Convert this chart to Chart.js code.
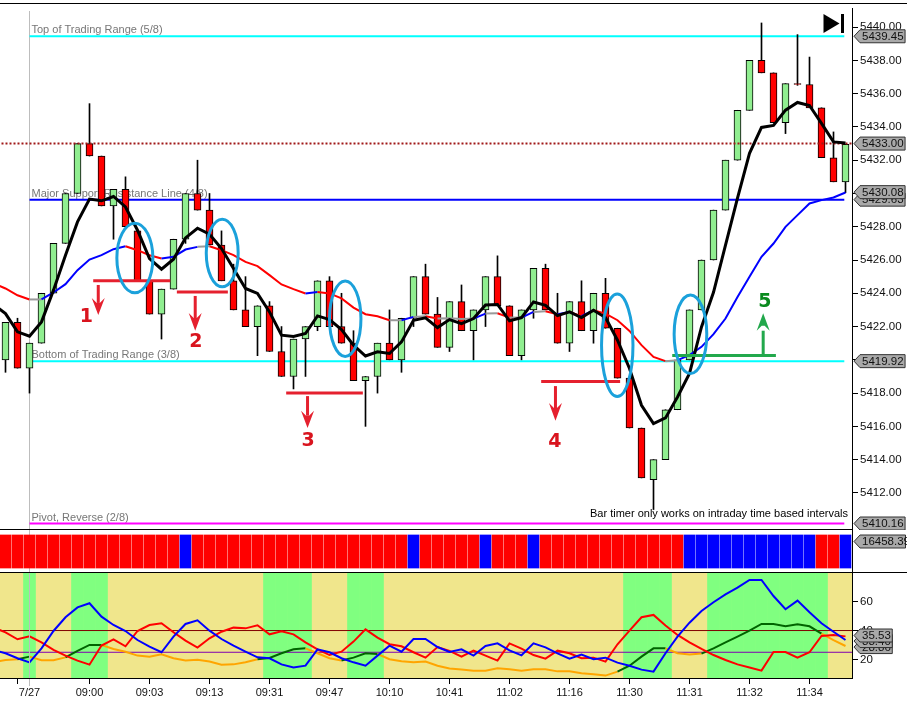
<!DOCTYPE html>
<html>
<head>
<meta charset="utf-8">
<title>Trading range chart</title>
<script src="https://cdn.jsdelivr.net/npm/chart.js@4"></script>
<style>
	html, body { margin: 0; padding: 0; background: #fff; overflow: hidden; }
	canvas { position: absolute; left: 0; }
</style>
</head>
<body>
<canvas id="priceChart" width="907" height="530" style="top:0px"></canvas>
<canvas id="signalChart" width="907" height="42" style="top:530px"></canvas>
<canvas id="oscChart" width="907" height="131" style="top:572px"></canvas>
<script>
// Candles, bar 0 is the first one on screen
const opens = [
	5420, 5422.25, 5419.5, 5421, 5424, 5427, 5430, 5433, 5432.25, 5429.25,
	5430.25, 5427.75, 5424.75, 5422.75, 5424.25, 5427.25, 5430, 5429, 5426.9, 5424.75,
	5423, 5422, 5423.25, 5420.5, 5419, 5421.25, 5422, 5424.75, 5422, 5421,
	5418.75, 5419, 5421, 5420, 5422.5, 5425, 5422.75, 5420.75, 5423.5, 5421.75,
	5423, 5425, 5423.25, 5420.25, 5423, 5425.5, 5422.75, 5421, 5423.5, 5421.75,
	5424, 5421.9, 5418.9, 5415.9, 5412.8, 5414, 5417, 5420, 5423, 5426,
	5429, 5432, 5435, 5438, 5437.25, 5434.25, 5436.6, 5436.55, 5435.15, 5432.15,
	5430.7];
const closes = [
	5422.25, 5419.5, 5421, 5424, 5427, 5430, 5433, 5432.25, 5429.25, 5430.25,
	5428, 5424.75, 5422.75, 5424.25, 5427.25, 5430, 5429, 5426.9, 5424.75, 5423,
	5422, 5423.25, 5420.5, 5419, 5421.25, 5422, 5424.75, 5422, 5421, 5418.75,
	5419, 5421, 5420, 5422.5, 5425, 5422.75, 5420.75, 5423.5, 5421.75, 5423,
	5425, 5423.25, 5420.25, 5423, 5425.5, 5423, 5421, 5423.5, 5421.75, 5424,
	5421.9, 5418.9, 5415.9, 5412.9, 5414, 5417, 5420, 5423, 5426, 5429,
	5432, 5435, 5438, 5437.25, 5434.25, 5436.6, 5436.55, 5435.15, 5432.15, 5430.7,
	5432.95];
const highs = [
	5422.25, 5422.5, 5421, 5424, 5427, 5430, 5433, 5435.4, 5432.25, 5430.25,
	5431, 5427.75, 5424.75, 5424.25, 5427.25, 5430, 5432, 5430, 5427.75, 5425.75,
	5425, 5423.25, 5423.5, 5422, 5421.25, 5422, 5424.75, 5425, 5424, 5421.75,
	5419, 5421, 5423, 5422.5, 5425, 5425.75, 5423.75, 5423.5, 5424.5, 5423,
	5425, 5426.25, 5423.25, 5423, 5425.5, 5425.75, 5424, 5423.5, 5424.75, 5424,
	5424.9, 5421.9, 5418.9, 5415.9, 5414, 5417, 5420, 5423, 5426, 5429,
	5432, 5435, 5438, 5440.25, 5437.25, 5436.6, 5439.55, 5438.2, 5435.15, 5433.7,
	5432.95];
const lows = [
	5419.25, 5419.5, 5418, 5421, 5424, 5427, 5430, 5432.25, 5429.25, 5427.25,
	5428, 5424.75, 5422.75, 5421.25, 5424.25, 5427, 5429, 5426.9, 5424.75, 5423,
	5422, 5420.25, 5420.5, 5419, 5418.25, 5419, 5421.75, 5422, 5421, 5418.75,
	5416, 5418, 5420, 5419.25, 5422, 5422.75, 5420.75, 5420.5, 5421.75, 5420,
	5422, 5423.25, 5420.25, 5420, 5422.5, 5423, 5421, 5420.5, 5421.75, 5421,
	5421.9, 5418.9, 5415.9, 5412.9, 5411, 5414, 5417, 5420, 5423, 5426,
	5429, 5432, 5435, 5437.25, 5434.25, 5433.6, 5436.5, 5435.15, 5432.15, 5430.7,
	5430.05];

// Line series start one bar before the screen so they run off the left edge
const fastAvg = [
	5423.34, 5422.78, 5421.68, 5421.42, 5422.28, 5424.19, 5426.29, 5428.29, 5429.66, 5429.56,
	5429.82, 5429.19, 5427.79, 5426.09, 5425.45, 5426.05, 5427.33, 5427.91, 5427.55, 5426.69,
	5425.49, 5424.29, 5423.99, 5422.88, 5421.48, 5421.4, 5421.58, 5422.64, 5422.42, 5421.82,
	5420.88, 5420.23, 5420.48, 5420.38, 5421.08, 5422.38, 5422.52, 5421.94, 5422.42, 5422.18,
	5422.48, 5423.3, 5423.33, 5422.34, 5422.54, 5423.48, 5423.28, 5422.66, 5422.88, 5422.54,
	5422.98, 5422.54, 5421.18, 5419.48, 5417.27, 5416.17, 5416.51, 5417.77, 5419.18, 5421.98,
	5424.06, 5426.89, 5429.72, 5432.41, 5433.97, 5434.09, 5435.01, 5435.47, 5435.29, 5434.21,
	5433.1, 5433.04];
const slowAvg = [
	5424.59, 5424.29, 5423.88, 5423.63, 5423.63, 5424.05, 5424.55, 5425.39, 5426.03, 5426.29,
	5426.65, 5426.83, 5426.59, 5426.29, 5426.09, 5426.19, 5426.63, 5426.79, 5426.83, 5426.59,
	5426.29, 5425.89, 5425.63, 5425.09, 5424.53, 5424.25, 5423.99, 5424.08, 5423.99, 5423.69,
	5423.14, 5422.74, 5422.62, 5422.38, 5422.38, 5422.58, 5422.62, 5422.48, 5422.5, 5422.46,
	5422.48, 5422.78, 5422.8, 5422.54, 5422.54, 5422.88, 5422.92, 5422.74, 5422.88, 5422.62,
	5422.98, 5422.78, 5422.38, 5421.74, 5420.88, 5420.17, 5419.92, 5419.98, 5420.28, 5420.78,
	5421.54, 5422.48, 5423.78, 5424.99, 5426.19, 5426.99, 5427.99, 5428.7, 5429.4, 5429.6,
	5429.76, 5430.06];

const priceTicks = [5412, 5414, 5416, 5418, 5420, 5422, 5424, 5426, 5428, 5430, 5432, 5434, 5436, 5438, 5440];
const topLevel = 5439.45;
const midLevel = 5429.63;
const bottomLevel = 5419.92;
const pivotLevel = 5410.16;
const closeLevel = 5433;
const levelNames = ["Top of Trading Range (5/8)", "Major Support/Resistance Line (4/8)", "Bottom of Trading Range (3/8)", "Pivot, Reverse (2/8)"];
const levelValues = [topLevel, midLevel, bottomLevel, pivotLevel];
const priceTags = ["5439.45", "5429.63", "5433.00", "5430.08", "5419.92", "5410.16"];
const priceTagValues = [5439.45, 5429.63, 5433, 5430.08, 5419.92, 5410.16];

// 1 means a blue bar in the strip under the prices
const signal = [
	0, 0, 0, 0, 0, 0, 0, 0, 0, 0,
	0, 0, 0, 0, 0, 1, 0, 0, 0, 0,
	0, 0, 0, 0, 0, 0, 0, 0, 0, 0,
	0, 0, 0, 0, 1, 0, 0, 0, 0, 0,
	1, 0, 0, 0, 1, 0, 0, 0, 0, 0,
	0, 0, 0, 0, 0, 0, 0, 1, 1, 1,
	1, 1, 1, 1, 1, 1, 1, 1, 0, 0,
	1];

// Oscillator panel
const greenBars = [2, 6, 7, 8, 22, 23, 24, 25, 29, 30, 31, 52, 53, 54, 55, 59, 60, 61, 62, 63, 64, 65, 66, 67, 68];
const oscBlue = [
	26.9, 24.6, 21.2, 18.4, 28.0, 39.9, 49.3, 56.1, 58.9, 49.7,
	44.0, 39.9, 33.7, 29.2, 25.3, 36.0, 44.7, 47.2, 40.1, 34.4,
	29.8, 25.7, 21.8, 21.2, 17.0, 14.8, 16.1, 27.3, 25.3, 21.2,
	18.4, 16.1, 23.0, 29.8, 25.7, 34.4, 34.4, 28.9, 25.5, 27.3,
	23.0, 29.6, 31.4, 26.6, 23.2, 31.4, 28.7, 24.6, 20.9, 23.7,
	20.5, 21.6, 18.2, 16.1, 13.4, 12.0, 24.6, 36.0, 45.6, 53.6,
	59.6, 65.0, 69.6, 74.9, 74.9, 63.9, 54.8, 60.7, 52.7, 45.2,
	39.4, 33.7];
const oscRed = [
	42.2, 39.0, 34.2, 36.2, 32.1, 26.9, 23.0, 19.6, 16.8, 29.9,
	34.2, 29.4, 39.9, 44.0, 45.2, 39.0, 33.3, 28.5, 34.9, 39.4,
	42.2, 41.7, 43.8, 37.6, 39.7, 37.6, 32.1, 27.3, 23.4, 25.7,
	32.6, 41.0, 35.3, 30.8, 29.4, 25.3, 21.6, 28.9, 26.2, 22.3,
	26.4, 23.0, 19.6, 31.4, 27.8, 23.4, 20.9, 26.4, 24.6, 21.2,
	21.6, 18.9, 30.8, 40.1, 49.3, 50.9, 43.6, 37.2, 32.1, 27.6,
	23.4, 20.0, 17.0, 14.8, 12.7, 25.5, 25.5, 21.6, 25.3, 36.5,
	37.2, 36.2];
const oscSlow = [
	18.4, 20.0, 20.5, 22.3, 19.8, 19.8, 21.8, 26.2, 30.3, 30.3,
	27.6, 25.7, 23.0, 22.3, 23.9, 21.2, 19.6, 20.2, 18.9, 16.8,
	17.0, 18.4, 20.5, 21.4, 24.6, 27.3, 28.0, 24.6, 21.2, 19.6,
	21.6, 24.6, 24.1, 20.5, 19.1, 18.4, 18.9, 16.1, 14.1, 13.4,
	12.7, 12.7, 14.3, 13.6, 12.7, 13.6, 13.6, 12.2, 12.2, 10.9,
	10.2, 9.3, 12.0, 16.1, 22.3, 28.0, 28.0, 24.6, 23.7, 24.4,
	28.0, 32.1, 36.0, 40.1, 44.7, 44.7, 43.1, 44.5, 43.1, 38.1,
	33.7, 29.6];
const oscUpperLine = 40.2;
const oscLowerLine = 25.3;
const oscTicks = [20, 40, 60];
const oscTags = ["28.86", "33.40", "35.53"];
const oscTagValues = [28.86, 33, 36.8];

const timeLabels = ["7/27", "09:00", "09:03", "09:13", "09:31", "09:47", "10:10", "10:41", "11:02", "11:16", "11:30", "11:31", "11:32", "11:34"];
const timeBars = [2, 7, 12, 17, 22, 27, 32, 37, 42, 47, 52, 57, 62, 67];
const extraTickBar = 1;

// Drawn-on notes: red or green level, arrow and number, in bar and price units
const noteBars = [[7.31, 13.73], [14.28, 18.53], [23.39, 29.78], [44.64, 51.22], [55.56, 64.2]];
const notePrices = [5424.76, 5424.08, 5418.0, 5418.7, 5420.26];
const arrowBars = [7.73, 15.81, 25.17, 45.83, 63.14];
const arrowStarts = [5424.5, 5423.84, 5417.82, 5418.42, 5420.59];
const arrowWings = [5423.72, 5422.81, 5416.94, 5417.4, 5421.75];
const arrowTips = [5422.69, 5421.75, 5415.9, 5416.34, 5422.8];
const noteLabels = ["1", "2", "3", "4", "5"];
const labelBars = [6.73, 15.87, 25.22, 45.78, 63.28];
const labelPrices = [5422.59, 5421.09, 5415.14, 5415.08, 5423.46];

// Blue circles around the signal bars
const ringBars = [10.78, 18.06, 28.31, 50.98, 57.08];
const ringPrices = [5426.12, 5426.42, 5422.47, 5420.87, 5421.54];
const ringBarRadius = [1.5, 1.33, 1.31, 1.31, 1.36];
const ringPriceRadius = [2.09, 2.03, 2.27, 3.08, 2.36];

const FONT = '"Liberation Sans", Arial, sans-serif';
Chart.defaults.font.family = FONT;
Chart.defaults.font.size = 11.5;
Chart.defaults.color = "#111";
Chart.defaults.animation = false;
Chart.defaults.plugins.legend.display = false;
Chart.defaults.plugins.tooltip.enabled = false;

const barIds = opens.map((v, i) => i);
// 71 bars of 12 pixels each, bar 0 centred on pixel 5.5
const xMin = -0.4583;
const xMax = 70.5417;

function lineData(values) {
	return values.map((v, i) => ({ x: i - 1, y: v }));
}

function flatLine(value, from, to) {
	return [{ x: from, y: value }, { x: to, y: value }];
}

function hiddenX() {
	return {
		type: "linear", min: xMin, max: xMax, offset: false, display: false,
		afterFit(s) { s.paddingLeft = 0; s.paddingRight = 0; }
	};
}

function rightAxis(min, max, ticks, label) {
	return {
		position: "right", min: min, max: max,
		border: { color: "#000" },
		grid: { drawOnChartArea: false, color: "#000", tickLength: 6 },
		ticks: { display: ticks.length > 0, padding: 2, color: "#111", callback: label },
		afterBuildTicks(s) { s.ticks = ticks.map(v => ({ value: v })); },
		afterFit(s) { s.width = 55; s.paddingTop = 0; s.paddingBottom = 0; }
	};
}

function drawTag(ctx, y, text) {
	ctx.save();
	ctx.font = "11.5px " + FONT;
	ctx.textAlign = "left";
	const right = Math.min(905.5, 863.5 + ctx.measureText(text).width);
	ctx.beginPath();
	ctx.moveTo(854, y);
	ctx.lineTo(860, y - 6.5);
	ctx.lineTo(right, y - 6.5);
	ctx.lineTo(right, y + 6.5);
	ctx.lineTo(860, y + 6.5);
	ctx.closePath();
	ctx.fillStyle = "#a9a9a9";
	ctx.fill();
	ctx.strokeStyle = "#333";
	ctx.lineWidth = 1;
	ctx.stroke();
	ctx.fillStyle = "#111";
	ctx.textBaseline = "middle";
	ctx.fillText(text, 862, y + 0.5);
	ctx.restore();
}

function hLine(ctx, y, from, to) {
	ctx.fillStyle = "#000";
	ctx.fillRect(from, y, to - from, 1);
}

function drawArrow(ctx, x, start, wing, tip, color) {
	const dir = tip > wing ? 1 : -1;
	ctx.fillStyle = color;
	ctx.fillRect(x - 1.5, Math.min(start, wing), 3, Math.abs(wing - start) + 5);
	ctx.beginPath();
	ctx.moveTo(x, tip);
	ctx.lineTo(x + 6.5, wing);
	ctx.lineTo(x + 1.5, wing + dir * 5);
	ctx.lineTo(x - 1.5, wing + dir * 5);
	ctx.lineTo(x - 6.5, wing);
	ctx.closePath();
	ctx.fill();
}

// Level names go under the candles, everything else goes on top
const priceOverlay = {
	id: "priceOverlay",
	beforeDatasetsDraw(chart) {
		const { ctx, scales: { x, y } } = chart;
		ctx.save();
		ctx.fillStyle = "#bdbdbd";
		ctx.fillRect(x.getPixelForValue(2) - 0.5, 11, 1, chart.height - 11);
		ctx.font = "11px " + FONT;
		ctx.fillStyle = "#777";
		ctx.textBaseline = "bottom";
		levelNames.forEach((name, i) => {
			ctx.fillText(name, x.getPixelForValue(2) + 2, y.getPixelForValue(levelValues[i]) - 0.5);
		});
		ctx.restore();
	},
	afterDraw(chart) {
		const { ctx, scales: { x, y } } = chart;
		ctx.save();
		ctx.lineCap = "butt";
		noteLabels.forEach((label, i) => {
			const color = i === 4 ? "#22a84c" : "#e5202e";
			ctx.strokeStyle = color;
			ctx.lineWidth = 3;
			ctx.beginPath();
			ctx.moveTo(x.getPixelForValue(noteBars[i][0]), y.getPixelForValue(notePrices[i]));
			ctx.lineTo(x.getPixelForValue(noteBars[i][1]), y.getPixelForValue(notePrices[i]));
			ctx.stroke();
			drawArrow(ctx, x.getPixelForValue(arrowBars[i]), y.getPixelForValue(arrowStarts[i]),
				y.getPixelForValue(arrowWings[i]), y.getPixelForValue(arrowTips[i]), color);
			ctx.fillStyle = i === 4 ? "#0a8a1e" : "#d9141e";
			ctx.font = 'bold 19px "DejaVu Sans"';
			ctx.textAlign = "center";
			ctx.textBaseline = "middle";
			ctx.fillText(label, x.getPixelForValue(labelBars[i]), y.getPixelForValue(labelPrices[i]));
		});
		ringBars.forEach((bar, i) => {
			const cx = x.getPixelForValue(bar);
			const cy = y.getPixelForValue(ringPrices[i]);
			const rx = x.getPixelForValue(bar + ringBarRadius[i]) - cx;
			const ry = cy - y.getPixelForValue(ringPrices[i] + ringPriceRadius[i]);
			ctx.strokeStyle = "#1ba1db";
			ctx.lineWidth = 3;
			ctx.beginPath();
			ctx.ellipse(cx, cy, rx, ry, 0, 0, Math.PI * 2);
			ctx.stroke();
		});
		ctx.fillStyle = "#000";
		ctx.font = "11px " + FONT;
		ctx.textAlign = "right";
		ctx.textBaseline = "middle";
		ctx.fillText("Bar timer only works on intraday time based intervals", 848, 514);
		// Jump to end button
		ctx.beginPath();
		ctx.moveTo(823.5, 14);
		ctx.lineTo(839.5, 23.5);
		ctx.lineTo(823.5, 33);
		ctx.closePath();
		ctx.fill();
		ctx.fillRect(841, 14, 3, 19);
		// the axis line stops short of the top rule
		ctx.fillStyle = "#fff";
		ctx.fillRect(850, 4, 5, 4);
		hLine(ctx, 3, 0, 907);
		hLine(ctx, 529, 0, 853);
		priceTags.forEach((t, i) => drawTag(ctx, y.getPixelForValue(priceTagValues[i]), t));
		ctx.restore();
	}
};

const signalOverlay = {
	id: "signalOverlay",
	beforeDatasetsDraw(chart) {
		const { ctx, scales: { x } } = chart;
		ctx.fillStyle = "#bdbdbd";
		ctx.fillRect(x.getPixelForValue(2) - 0.5, 0, 1, chart.height);
	},
	afterDraw(chart) {
		drawTag(chart.ctx, 11.5, "16458.39");
	}
};

const oscOverlay = {
	id: "oscOverlay",
	beforeDatasetsDraw(chart) {
		const { ctx, chartArea: a } = chart;
		ctx.fillStyle = "#f0e68c";
		ctx.fillRect(a.left, a.top, a.right - a.left, a.bottom - a.top);
	},
	afterDraw(chart) {
		const { ctx, chartArea: a, scales: { x, y } } = chart;
		ctx.fillStyle = "#bdbdbd";
		ctx.fillRect(x.getPixelForValue(2) - 0.5, 0, 1, a.bottom + 8);
		hLine(ctx, 0, 0, 907);
		hLine(ctx, a.bottom, 0, 853);
		oscTags.forEach((t, i) => drawTag(ctx, y.getPixelForValue(oscTagValues[i]), t));
	}
};

new Chart("priceChart", {
	type: "bar",
	data: {
		datasets: [
			{ type: "line", data: flatLine(topLevel, 2, 69.9), borderColor: "#00ffff", borderWidth: 2, pointRadius: 0, order: 7 },
			{ type: "line", data: flatLine(midLevel, 2, 69.9), borderColor: "#0000ff", borderWidth: 2, pointRadius: 0, order: 7 },
			{ type: "line", data: flatLine(bottomLevel, 2, 69.9), borderColor: "#00ffff", borderWidth: 2, pointRadius: 0, order: 7 },
			{ type: "line", data: flatLine(pivotLevel, 2, 69.9), borderColor: "#ff00ff", borderWidth: 2, pointRadius: 0, order: 7 },
			{
				data: barIds.map(i => ({ x: i, y: [lows[i], highs[i]] })),
				backgroundColor: "#000", barThickness: 1, grouped: false, order: 6
			},
			{
				data: barIds.map(i => ({ x: i, y: [opens[i], closes[i]] })),
				backgroundColor: barIds.map(i => closes[i] >= opens[i] ? "#90ee90" : "#ff0000"),
				borderColor: "#000", borderWidth: 1, borderSkipped: false, barThickness: 7, grouped: false, order: 5
			},
			{ type: "line", data: flatLine(closeLevel, -1, 71), borderColor: "#a01818", borderWidth: 2, borderDash: [2, 2], pointRadius: 0, order: 3 },
			{
				type: "line", data: lineData(slowAvg), borderWidth: 2, pointRadius: 0, tension: 0, order: 2,
				segment: {
					borderColor(c) {
						const d = c.p1.parsed.y - c.p0.parsed.y;
						if (Math.abs(d) < 0.06) return "#999999";
						return d > 0 ? "#0000ff" : "#ff0000";
					}
				}
			},
			{ type: "line", data: lineData(fastAvg), borderColor: "#000", borderWidth: 3, pointRadius: 0, tension: 0, order: 1 }
		]
	},
	options: {
		responsive: false,
		layout: { padding: { top: 4, bottom: 1 } },
		scales: {
			x: hiddenX(),
			y: rightAxis(5409.83, 5441.39, priceTicks, v => Number(v).toFixed(2))
		}
	},
	plugins: [priceOverlay]
});

new Chart("signalChart", {
	type: "bar",
	data: {
		datasets: [{
			data: barIds.map(i => ({ x: i, y: 1 })),
			backgroundColor: signal.map(s => s ? "#0000ff" : "#ff0000"),
			barThickness: 11
		}]
	},
	options: {
		responsive: false,
		scales: {
			x: hiddenX(),
			y: rightAxis(-0.12, 1.15, [], v => v)
		}
	},
	plugins: [signalOverlay]
});

new Chart("oscChart", {
	type: "bar",
	data: {
		datasets: [
			{
				data: greenBars.map(i => ({ x: i, y: [7.65, 79.67] })),
				backgroundColor: "#80ff80", barThickness: 12, grouped: false, order: 6
			},
			{ type: "line", data: flatLine(oscUpperLine, -1, 71), borderColor: "#800000", borderWidth: 1, pointRadius: 0, order: 5 },
			{ type: "line", data: flatLine(oscLowerLine, -1, 71), borderColor: "#8000b0", borderWidth: 1, pointRadius: 0, order: 5 },
			{
				type: "line", data: lineData(oscSlow), borderWidth: 2, pointRadius: 0, tension: 0, order: 3,
				segment: { borderColor: c => greenBars.includes(c.p1.parsed.x) ? "#006400" : "#ffa500" }
			},
			{ type: "line", data: lineData(oscRed), borderColor: "#ff0000", borderWidth: 2, pointRadius: 0, tension: 0, order: 2 },
			{ type: "line", data: lineData(oscBlue), borderColor: "#0000ff", borderWidth: 2, pointRadius: 0, tension: 0, order: 1 }
		]
	},
	options: {
		responsive: false,
		layout: { padding: { top: 1 } },
		scales: {
			x: {
				type: "linear", min: xMin, max: xMax, offset: false,
				border: { color: "#000" },
				grid: { offset: false, drawOnChartArea: false, color: "#000", tickLength: 6 },
				ticks: {
					autoSkip: false, maxRotation: 0, padding: 2, font: { size: 11 }, color: "#111",
					callback: v => timeBars.includes(v) ? timeLabels[timeBars.indexOf(v)] : ""
				},
				afterBuildTicks(s) { s.ticks = [extraTickBar].concat(timeBars).map(v => ({ value: v })); },
				afterFit(s) { s.height = 25; s.paddingLeft = 0; s.paddingRight = 0; }
			},
			y: rightAxis(7.65, 79.67, oscTicks, v => v)
		}
	},
	plugins: [oscOverlay]
});
</script>
</body>
</html>
